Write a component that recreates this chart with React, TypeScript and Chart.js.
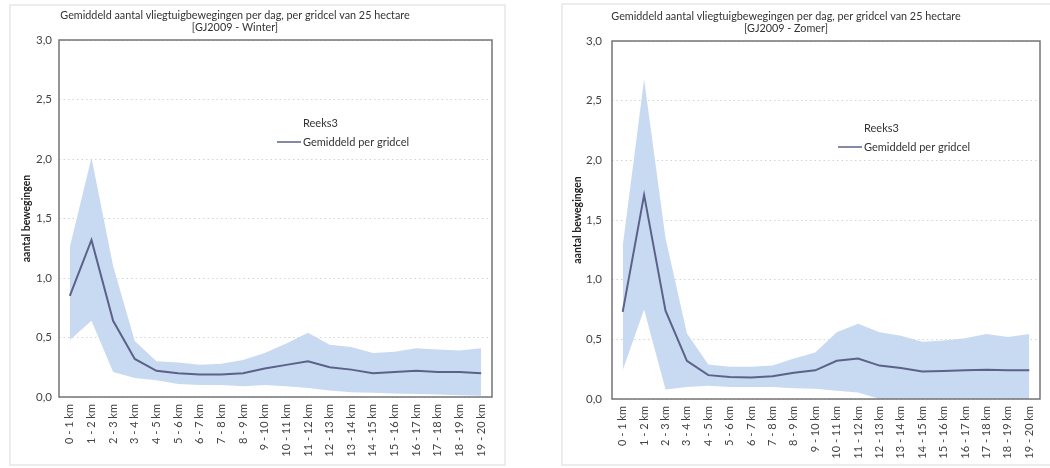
import React, { useEffect, useRef } from "react";
import { Chart, registerables } from "chart.js";

Chart.register(...registerables);

// Distance classes along the x axis
const categories = [
  "0 - 1 km", "1 - 2 km", "2 - 3 km", "3 - 4 km", "4 - 5 km",
  "5 - 6 km", "6 - 7 km", "7 - 8 km", "8 - 9 km", "9 - 10 km",
  "10 - 11 km", "11 - 12 km", "12 - 13 km", "13 - 14 km", "14 - 15 km",
  "15 - 16 km", "16 - 17 km", "17 - 18 km", "18 - 19 km", "19 - 20 km",
];

// Winter season: average per grid cell with its spread band
const winterMean = [0.85, 1.32, 0.64, 0.32, 0.22, 0.2, 0.19, 0.19, 0.2, 0.24, 0.27, 0.3, 0.25, 0.23, 0.2, 0.21, 0.22, 0.21, 0.21, 0.2];
const winterUpper = [1.26, 2.01, 1.1, 0.47, 0.3, 0.29, 0.27, 0.28, 0.31, 0.37, 0.45, 0.54, 0.44, 0.42, 0.37, 0.38, 0.41, 0.4, 0.39, 0.41];
const winterLower = [0.48, 0.64, 0.21, 0.16, 0.14, 0.11, 0.1, 0.1, 0.09, 0.1, 0.09, 0.075, 0.055, 0.04, 0.035, 0.03, 0.025, 0.02, 0.015, 0.01];

// Summer season
const summerMean = [0.73, 1.71, 0.74, 0.32, 0.2, 0.185, 0.18, 0.19, 0.22, 0.24, 0.32, 0.34, 0.28, 0.26, 0.23, 0.235, 0.24, 0.245, 0.24, 0.24];
const summerUpper = [1.28, 2.68, 1.35, 0.55, 0.29, 0.27, 0.27, 0.28, 0.34, 0.39, 0.56, 0.63, 0.56, 0.53, 0.48, 0.49, 0.51, 0.545, 0.52, 0.545];
const summerLower = [0.24, 0.75, 0.08, 0.1, 0.11, 0.1, 0.1, 0.1, 0.09, 0.085, 0.07, 0.055, 0, 0, 0, 0, 0, 0, 0, 0];

// Y axis range and tick step
const yMin = 0;
const yMax = 3;
const yStep = 0.5;

const titleLine = "Gemiddeld aantal vliegtuigbewegingen per dag, per gridcel van 25 hectare";
const winterSubtitle = "[GJ2009 - Winter]";
const summerSubtitle = "[GJ2009 - Zomer]";
const yAxisTitle = "aantal bewegingen";
const legendTitle = "Reeks3";
const legendLabel = "Gemiddeld per gridcel";

const FONT = "Lato, 'Open Sans', sans-serif";
const BAND = "rgb(200, 218, 241)";
const LINE = "rgb(92, 97, 138)";

// Draws the panel frame, plot box, titles, axis title and legend
const decorPlugin = {
  id: "decor",
  beforeDraw(chart: any, _args: any, o: any) {
    const ctx = chart.ctx;
    ctx.save();
    ctx.fillStyle = "#fff";
    ctx.fillRect(0, 0, chart.width, chart.height);
    ctx.strokeStyle = "#e6e6e6";
    ctx.lineWidth = 1.5;
    ctx.strokeRect(o.frame[0], o.frame[1], o.frame[2], o.frame[3]);
    ctx.restore();
  },
  afterDraw(chart: any, _args: any, o: any) {
    const ctx = chart.ctx;
    const a = chart.chartArea;
    ctx.save();
    // plot box
    ctx.strokeStyle = "#747474";
    ctx.lineWidth = 1.5;
    ctx.strokeRect(a.left, a.top, a.right - a.left, a.bottom - a.top);

    // titles
    ctx.fillStyle = "#333";
    ctx.textBaseline = "middle";
    ctx.textAlign = "center";
    ctx.font = `10.8px ${FONT}`;
    ctx.fillText(titleLine, o.titleX, o.titleY);
    ctx.fillText(o.subtitle, o.titleX, o.titleY + 12);

    // y axis title
    ctx.save();
    ctx.translate(o.axisTitleX, (a.top + a.bottom) / 2);
    ctx.rotate(-Math.PI / 2);
    ctx.font = `bold 10.5px ${FONT}`;
    ctx.fillStyle = "#222";
    ctx.fillText(yAxisTitle, 0, 0);
    ctx.restore();

    // legend
    ctx.textAlign = "left";
    ctx.font = `11px ${FONT}`;
    ctx.fillStyle = "#333";
    ctx.fillText(legendTitle, o.legendX + 26, o.legendY);
    ctx.strokeStyle = LINE;
    ctx.lineWidth = 1.5;
    ctx.beginPath();
    ctx.moveTo(o.legendX, o.legendY + 19);
    ctx.lineTo(o.legendX + 24, o.legendY + 19);
    ctx.stroke();
    ctx.fillText(legendLabel, o.legendX + 26, o.legendY + 19);
    ctx.restore();
  },
};

type Layout = {
  yWidth: number;
  xHeight: number;
  padTop: number;
  padRight: number;
  yTickPad: number;
  decor: any;
};

function makeConfig(mean: number[], upper: number[], lower: number[], lay: Layout): any {
  return {
    type: "line",
    data: {
      labels: categories,
      datasets: [
        {
          label: legendLabel,
          data: mean,
          borderColor: LINE,
          borderWidth: 2,
          pointRadius: 0,
          fill: false,
          tension: 0,
        },
        {
          label: "upper",
          data: upper,
          borderColor: "rgba(0,0,0,0)",
          borderWidth: 0,
          pointRadius: 0,
          backgroundColor: BAND,
          fill: "+1",
          tension: 0,
        },
        {
          label: "lower",
          data: lower,
          borderColor: "rgba(0,0,0,0)",
          borderWidth: 0,
          pointRadius: 0,
          fill: false,
          tension: 0,
        },
      ],
    },
    options: {
      responsive: false,
      animation: false,
      events: [],
      layout: { padding: { left: 0, top: lay.padTop, right: lay.padRight, bottom: 0 } },
      plugins: {
        legend: { display: false },
        title: { display: false },
        tooltip: { enabled: false },
        decor: lay.decor,
      },
      scales: {
        x: {
          offset: true,
          grid: { display: false, drawTicks: false },
          border: { display: false },
          ticks: {
            autoSkip: false,
            maxRotation: 90,
            minRotation: 90,
            padding: 7,
            color: "#444",
            font: { family: FONT, size: 11 },
          },
          afterFit: (s: any) => {
            s.height = lay.xHeight;
          },
        },
        y: {
          min: yMin,
          max: yMax,
          grid: { color: "#d4d4d4", lineWidth: 1, drawTicks: false },
          border: { display: false, dash: [1.5, 3] },
          ticks: {
            stepSize: yStep,
            padding: lay.yTickPad,
            color: "#444",
            font: { family: FONT, size: 11.5 },
            callback: (v: number) => v.toFixed(1).replace(".", ","),
          },
          afterFit: (s: any) => {
            s.width = lay.yWidth;
          },
        },
      },
    },
    plugins: [decorPlugin],
  };
}

function Panel(props: { config: any; left: number }) {
  const ref = useRef<HTMLCanvasElement | null>(null);
  useEffect(() => {
    if (!ref.current) return;
    const chart = new Chart(ref.current, props.config);
    return () => chart.destroy();
  }, [props.config]);
  return (
    <canvas
      ref={ref}
      width={525}
      height={468}
      style={{ position: "absolute", left: props.left, top: 0, width: 525, height: 468 }}
    />
  );
}

const winterConfig = makeConfig(winterMean, winterUpper, winterLower, {
  yWidth: 59,
  xHeight: 71,
  padTop: 40,
  padRight: 33,
  yTickPad: 7,
  decor: {
    frame: [10, 5, 495, 460],
    subtitle: winterSubtitle,
    titleX: 235,
    titleY: 16,
    axisTitleX: 27,
    legendX: 277,
    legendY: 123,
  },
});

const summerConfig = makeConfig(summerMean, summerUpper, summerLower, {
  yWidth: 87,
  xHeight: 69,
  padTop: 41,
  padRight: 10,
  yTickPad: 10,
  decor: {
    frame: [37, 4, 520, 461],
    subtitle: summerSubtitle,
    titleX: 261,
    titleY: 17,
    axisTitleX: 53,
    legendX: 313,
    legendY: 128,
  },
});

export default function App() {
  return (
    <div
      style={{
        position: "fixed",
        left: 0,
        top: 0,
        width: 1050,
        height: 468,
        background: "#fff",
        overflow: "hidden",
      }}
    >
      <Panel config={winterConfig} left={0} />
      <Panel config={summerConfig} left={525} />
    </div>
  );
}
